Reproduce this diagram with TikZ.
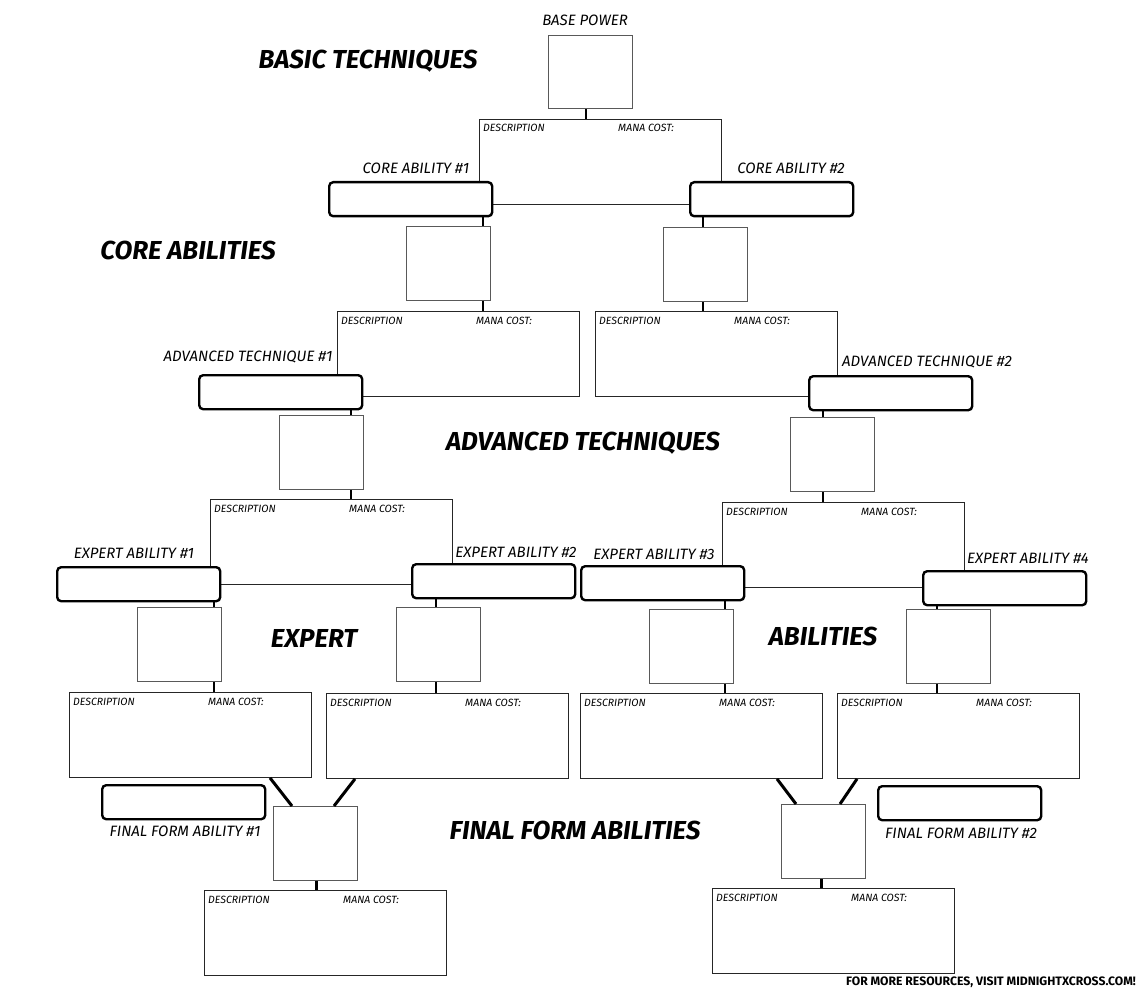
\documentclass[tikz,border=0pt]{standalone}
\usepackage{fontspec}
\setmainfont{Fira Sans}
\usetikzlibrary{positioning}

\begin{document}
\begin{tikzpicture}[x=1pt,y=-1pt,
    descbox/.style={draw=black!85, line width=0.9pt, minimum width=242pt, minimum height=85pt, anchor=north west, inner sep=0pt},
    picbox/.style={draw=black!65, line width=1.1pt, fill=white, minimum width=84pt, minimum height=74pt, anchor=north west, inner sep=0pt},
    namebox/.style={draw=black, line width=2.4pt, rounded corners=4pt, fill=white, minimum width=163pt, minimum height=34pt, anchor=north west, inner sep=0pt},
    link/.style={line width=1.1pt},
    thicklink/.style={line width=3pt},
    heading/.style={font=\fontsize{26}{28}\selectfont\bfseries\itshape},
    tag/.style={font=\fontsize{15}{17}\selectfont\itshape},
    tiny/.style={font=\fontsize{10.5}{12}\selectfont\itshape, anchor=base west, inner sep=0pt}]
    \useasboundingbox[fill=white] (0,0) rectangle (1140,1000);

    % Description boxes, with their two captions
    \foreach \n/\x/\y in {d0/479/119, d1/337/311, d2/595/311, d3/210/499, d4/722/502,
                          d5/69/692, d6/326/693, d7/580/693, d8/837/693, d9/204/890, d10/712/888} {
        \node[descbox] (\n) at (\x,\y) {};
        \node[tiny] (\n-desc) at (\x+4,\y+13) {DESCRIPTION};
        \node[tiny] (\n-mana) at (\x+139,\y+13) {MANA COST:};
    }

    % Picture boxes
    \node[picbox, minimum height=73pt] (p0) at (548,35) {};
    \node[picbox] (p1) at (406,226) {};
    \node[picbox] (p2) at (663,227) {};
    \node[picbox] (p3) at (279,415) {};
    \node[picbox] (p4) at (790,417) {};
    \node[picbox] (p5) at (137,607) {};
    \node[picbox] (p6) at (396,607) {};
    \node[picbox] (p7) at (649,609) {};
    \node[picbox] (p8) at (906,609) {};
    \node[picbox] (p9) at (273,806) {};
    \node[picbox] (p10) at (781,804) {};

    % Name boxes
    \node[namebox] (core1) at (328,181) {};
    \node[namebox] (core2) at (689,181) {};
    \node[namebox] (adv1) at (198,374) {};
    \node[namebox] (adv2) at (808,375) {};
    \node[namebox] (exp1) at (56,566) {};
    \node[namebox] (exp2) at (411,563) {};
    \node[namebox] (exp3) at (580,565) {};
    \node[namebox] (exp4) at (922,570) {};
    \node[namebox] (fin1) at (101,784) {};
    \node[namebox] (fin2) at (877,785) {};

    % x of each connector
    \coordinate (x0) at (586,0);
    \coordinate (x1) at (483,0);
    \coordinate (x2) at (703,0);
    \coordinate (x3) at (351,0);
    \coordinate (x4) at (823,0);
    \coordinate (x5) at (214,0);
    \coordinate (x6) at (436,0);
    \coordinate (x7) at (725,0);
    \coordinate (x8) at (937,0);
    \coordinate (x9) at (316,0);
    \coordinate (x10) at (821,0);

    \draw[link] (p0.south -| x0) -- (d0.north -| x0);
    \draw[link] (core1.south -| x1) -- (p1.north -| x1);
    \draw[link] (p1.south -| x1) -- (d1.north -| x1);
    \draw[link] (core2.south -| x2) -- (p2.north -| x2);
    \draw[link] (p2.south -| x2) -- (d2.north -| x2);
    \draw[link] (adv1.south -| x3) -- (p3.north -| x3);
    \draw[link] (p3.south -| x3) -- (d3.north -| x3);
    \draw[link] (adv2.south -| x4) -- (p4.north -| x4);
    \draw[link] (p4.south -| x4) -- (d4.north -| x4);
    \draw[link] (exp1.south -| x5) -- (p5.north -| x5);
    \draw[link] (p5.south -| x5) -- (d5.north -| x5);
    \draw[link] (exp2.south -| x6) -- (p6.north -| x6);
    \draw[link] (p6.south -| x6) -- (d6.north -| x6);
    \draw[link] (exp3.south -| x7) -- (p7.north -| x7);
    \draw[link] (p7.south -| x7) -- (d7.north -| x7);
    \draw[link] (exp4.south -| x8) -- (p8.north -| x8);
    \draw[link] (p8.south -| x8) -- (d8.north -| x8);

    % Final form branches
    \coordinate (f1) at (270,0);
    \coordinate (f2) at (292,0);
    \coordinate (f3) at (355,0);
    \coordinate (f4) at (334,0);
    \coordinate (f5) at (777,0);
    \coordinate (f6) at (796,0);
    \coordinate (f7) at (857,0);
    \coordinate (f8) at (840,0);
    \draw[thicklink] (d5.south -| f1) -- (p9.north -| f2);
    \draw[thicklink] (d6.south -| f3) -- (p9.north -| f4);
    \draw[thicklink] (p9.south -| x9) -- (d9.north -| x9);
    \draw[thicklink] (d7.south -| f5) -- (p10.north -| f6);
    \draw[thicklink] (d8.south -| f7) -- (p10.north -| f8);
    \draw[thicklink] (p10.south -| x10) -- (d10.north -| x10);

    % Section headings
    \node[heading] (h-basic) at (368,61) {BASIC TECHNIQUES};
    \node[heading] (h-core) at (188,250) {CORE ABILITIES};
    \node[heading] (h-adv) at (583,443) {ADVANCED TECHNIQUES};
    \node[heading] (h-expert) at (314,638) {EXPERT};
    \node[heading] (h-abil) at (823,636) {ABILITIES};
    \node[heading] (h-final) at (575,830) {FINAL FORM ABILITIES};

    % Box titles
    \node[tag] (t-base) at (585,20) {BASE POWER};
    \node[tag] (t-core1) at (416,168) {CORE ABILITY \#1};
    \node[tag] (t-core2) at (791,168) {CORE ABILITY \#2};
    \node[tag] (t-adv1) at (248,357) {ADVANCED TECHNIQUE \#1};
    \node[tag] (t-adv2) at (927,362) {ADVANCED TECHNIQUE \#2};
    \node[tag] (t-exp1) at (134,553) {EXPERT ABILITY \#1};
    \node[tag] (t-exp2) at (516,552) {EXPERT ABILITY \#2};
    \node[tag] (t-exp3) at (654,554) {EXPERT ABILITY \#3};
    \node[tag] (t-exp4) at (1028,558) {EXPERT ABILITY \#4};
    \node[tag] (t-fin1) at (185,831) {FINAL FORM ABILITY \#1};
    \node[tag] (t-fin2) at (961,833) {FINAL FORM ABILITY \#2};

    \node[anchor=east, inner sep=0pt, font=\fontsize{12.2}{14}\selectfont\bfseries] (credit) at (1136,982)
        {FOR MORE RESOURCES, VISIT MIDNIGHTXCROSS.COM!};
\end{tikzpicture}
\end{document}
